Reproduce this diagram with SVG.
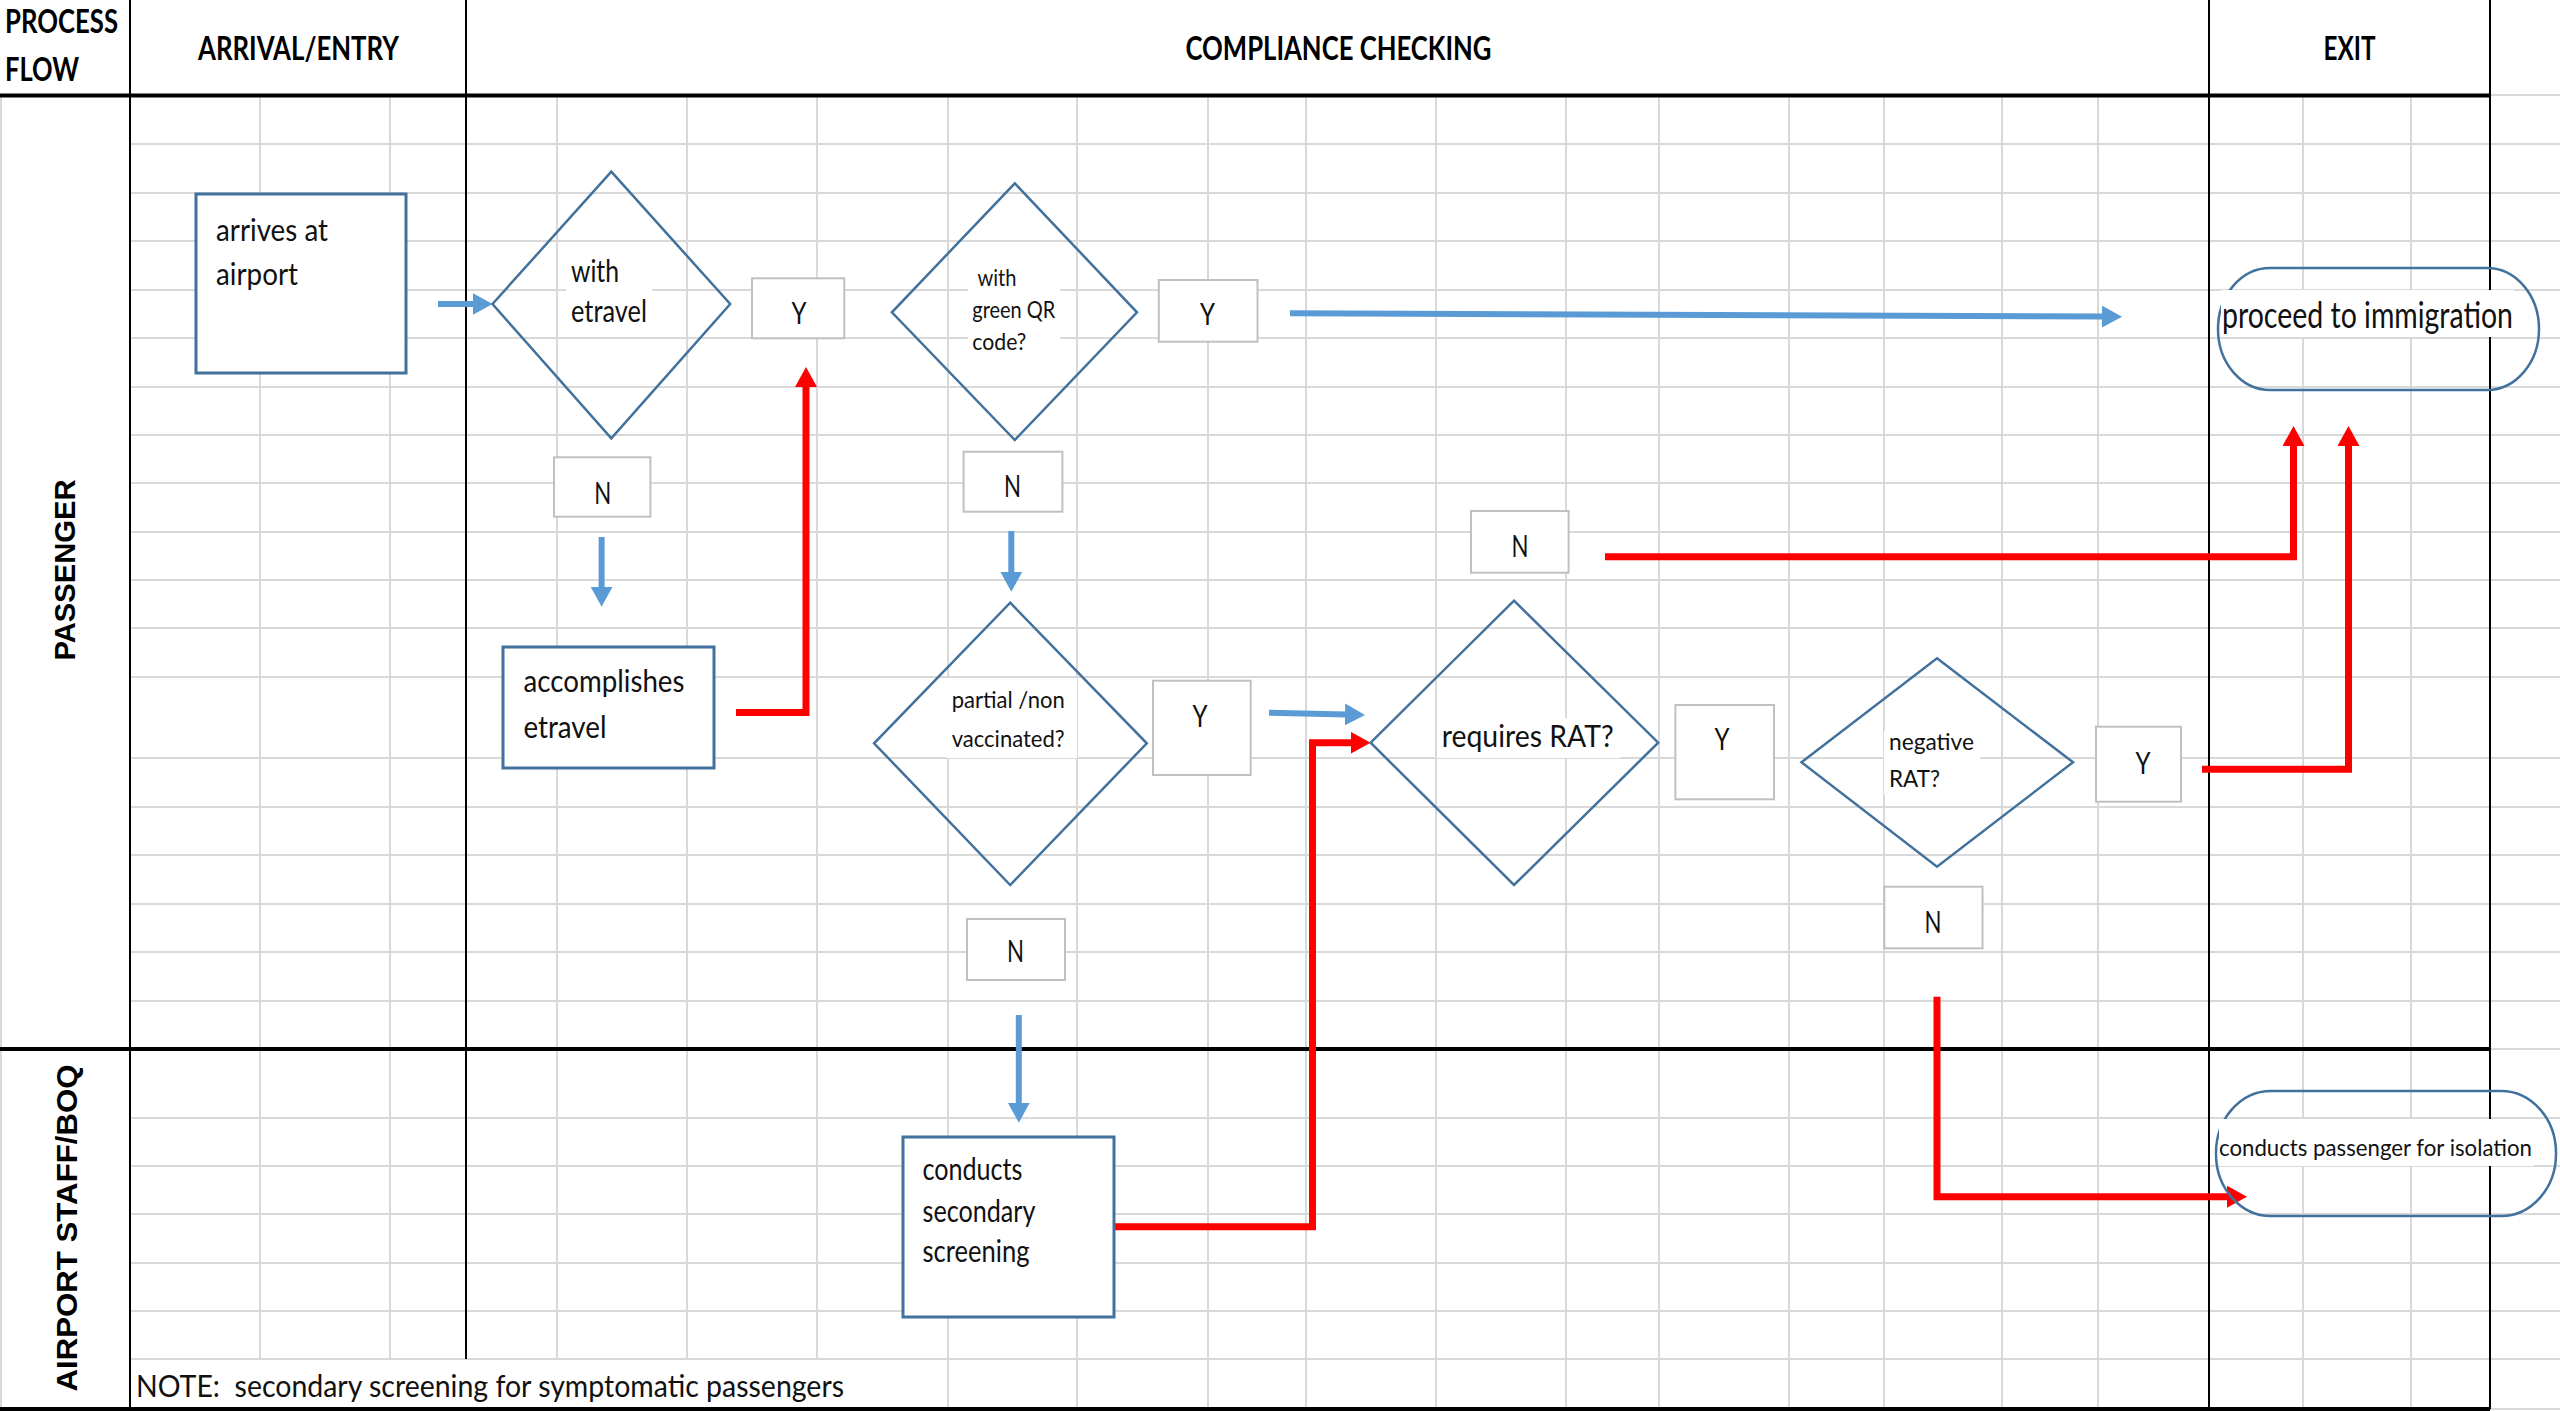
<svg xmlns="http://www.w3.org/2000/svg" width="2560" height="1411" viewBox="0 0 2560 1411">
<defs>
<style>
.grid{stroke:#d9d9d9;stroke-width:2;fill:none}
.rule{stroke:#000;stroke-width:2;fill:none}
.rule-heavy{stroke:#000;stroke-width:4;fill:none}
.proc{fill:#fff;stroke:#41719c;stroke-width:3}
.dec{fill:none;stroke:#41719c;stroke-width:2.5;stroke-linejoin:miter}
.term{fill:none;stroke:#41719c;stroke-width:2.5}
.tag{fill:#fff;stroke:#c0c0c0;stroke-width:2}
.tbg{fill:#fff}
text{font-family:Lato,"Open Sans","Liberation Sans",sans-serif;fill:#111}
.head{font-weight:700;font-size:32px;fill:#000}
.lane{font-family:"Liberation Sans",Arial,sans-serif;font-weight:700;font-size:30px;fill:#000;text-anchor:middle}
.body{font-size:30px}
.small{font-size:24px}
.yn{font-size:31px;text-anchor:middle}
.mid{text-anchor:middle}
.flow-blue{stroke:#5b9bd5;stroke-width:6;fill:none}
.flow-red{stroke:#ff0000;stroke-width:7;fill:none;stroke-linejoin:miter}
</style>
<marker id="headBlue" markerUnits="userSpaceOnUse" viewBox="0 0 20 22" markerWidth="20" markerHeight="22" refX="1" refY="11" orient="auto"><path d="M0,0 L20,11 L0,22 z" fill="#5b9bd5"/></marker>
<marker id="headRed" markerUnits="userSpaceOnUse" viewBox="0 0 20 22" markerWidth="20" markerHeight="22" refX="1" refY="11" orient="auto"><path d="M0,0 L20,11 L0,22 z" fill="#ff0000"/></marker>
</defs>

<rect width="2560" height="1411" fill="#fff"/>

<!-- sheet grid -->
<g id="grid">
<path class="grid" d="M130,144H2560M130,193H2560M130,241H2560M130,290H2560M130,338H2560M130,387H2560M130,435H2560M130,483H2560M130,532H2560M130,580H2560M130,628H2560M130,677H2560M130,758H2560M130,807H2560M130,855H2560M130,904H2560M130,952H2560M130,1001H2560M130,1118H2560M130,1166H2560M130,1214H2560M130,1263H2560M130,1311H2560M130,1359H2560M2490,95H2560M2490,1049H2560M2490,1409H2560"/>
<path class="grid" d="M260,95V1359M390,95V1359M557,95V1359M687,95V1359M817,95V1359M948,95V1409M1077,95V1409M1208,95V1409M1306,95V1409M1436,95V1409M1566,95V1409M1659,95V1409M1789,95V1409M1884,95V1409M2002,95V1409M2098,95V1409M2303,95V1409M2411,95V1409M1,95V1409"/>
</g>

<!-- swimlane frame -->
<g id="frame">
<path class="rule" d="M130,0V1409M466,0V1359M2209,0V1409M2490,0V1409"/>
<path class="rule-heavy" d="M0,95.5H2490M0,1049H2490M0,1409H2490"/>
<text class="head" x="5" y="33" textLength="113" lengthAdjust="spacingAndGlyphs">PROCESS</text>
<text class="head" x="5" y="81" textLength="74" lengthAdjust="spacingAndGlyphs">FLOW</text>
<text class="head mid" x="298.5" y="60" textLength="201" lengthAdjust="spacingAndGlyphs">ARRIVAL/ENTRY</text>
<text class="head mid" x="1338.5" y="60" textLength="306" lengthAdjust="spacingAndGlyphs">COMPLIANCE CHECKING</text>
<text class="head mid" x="2349.5" y="60" textLength="52" lengthAdjust="spacingAndGlyphs">EXIT</text>
<text class="lane" transform="translate(75,570) rotate(-90)" textLength="181" lengthAdjust="spacingAndGlyphs">PASSENGER</text>
<text class="lane" transform="translate(77,1228) rotate(-90)" textLength="327" lengthAdjust="spacingAndGlyphs">AIRPORT STAFF/BOQ</text>
<text class="body" x="136" y="1397" style="white-space:pre" textLength="708" lengthAdjust="spacingAndGlyphs">NOTE:  secondary screening for symptomatic passengers</text>
</g>

<!-- connectors -->
<g id="connectors">
<path class="flow-blue" d="M438,304H473.5" marker-end="url(#headBlue)"/>
<path class="flow-blue" d="M601.6,537V587.7" marker-end="url(#headBlue)"/>
<path class="flow-blue" d="M1290,313.3L2103,316.6" marker-end="url(#headBlue)"/>
<path class="flow-blue" d="M1011.3,531V572.7" marker-end="url(#headBlue)"/>
<path class="flow-blue" d="M1269,712.7L1346,714.5" marker-end="url(#headBlue)"/>
<path class="flow-blue" d="M1018.8,1015V1103.7" marker-end="url(#headBlue)"/>
<path class="flow-red" d="M736,712.5H806V386" marker-end="url(#headRed)"/>
<path class="flow-red" d="M1605,556.7H2293.5V445" marker-end="url(#headRed)"/>
<path class="flow-red" d="M2202,769.3H2348.5V445" marker-end="url(#headRed)"/>
<path class="flow-red" d="M1113,1226.7H1312.5V742.7H1351.6" marker-end="url(#headRed)"/>
<path class="flow-red" d="M1937,996.7V1196.7H2228" marker-end="url(#headRed)"/>
</g>

<!-- process steps -->
<g id="arrives">
<rect class="proc" x="196" y="194" width="210" height="179"/>
<text class="body" x="216" y="240.5" textLength="112" lengthAdjust="spacingAndGlyphs">arrives at</text>
<text class="body" x="216" y="284.5" textLength="82" lengthAdjust="spacingAndGlyphs">airport</text>
</g>
<g id="accomplishes">
<rect class="proc" x="503" y="647" width="211" height="121"/>
<text class="body" x="523.5" y="692" textLength="161" lengthAdjust="spacingAndGlyphs">accomplishes</text>
<text class="body" x="523.5" y="738" textLength="83" lengthAdjust="spacingAndGlyphs">etravel</text>
</g>
<g id="secondary">
<rect class="proc" x="903" y="1137" width="211" height="180"/>
<text class="body" x="922.5" y="1180" textLength="100" lengthAdjust="spacingAndGlyphs">conducts</text>
<text class="body" x="922.5" y="1221.5" textLength="113" lengthAdjust="spacingAndGlyphs">secondary</text>
<text class="body" x="922.5" y="1262" textLength="107" lengthAdjust="spacingAndGlyphs">screening</text>
</g>

<!-- decisions -->
<g id="etravel">
<polygon class="dec" points="611.3,171.7 730.2,304 611.3,438.3 492.5,304"/>
<rect class="tbg" x="566" y="254" width="86" height="76"/>
<text class="body" x="571" y="281.5" textLength="48" lengthAdjust="spacingAndGlyphs">with</text>
<text class="body" x="571" y="321.5" textLength="76" lengthAdjust="spacingAndGlyphs">etravel</text>
</g>
<g id="qrcode">
<polygon class="dec" points="1014.8,183.3 1137,312.3 1014.8,440 891.9,312.3"/>
<rect class="tbg" x="968" y="264" width="92" height="92"/>
<text class="small" x="977.5" y="286" textLength="39" lengthAdjust="spacingAndGlyphs">with</text>
<text class="small" x="972.3" y="318.3" textLength="83" lengthAdjust="spacingAndGlyphs">green QR</text>
<text class="small" x="972.3" y="350" textLength="54" lengthAdjust="spacingAndGlyphs">code?</text>
</g>
<g id="vaccinated">
<polygon class="dec" points="1010.2,602.7 1146.8,743.3 1010.2,885 874.1,743.3"/>
<rect class="tbg" x="947" y="678" width="130" height="80"/>
<text class="small" x="951.7" y="708.3" textLength="113" lengthAdjust="spacingAndGlyphs">partial /non</text>
<text class="small" x="951.7" y="746.7" textLength="113" lengthAdjust="spacingAndGlyphs">vaccinated?</text>
</g>
<g id="requiresRAT">
<polygon class="dec" points="1514,600.7 1658.2,742.7 1514,885 1370.6,742.7"/>
<rect class="tbg" x="1437" y="718" width="183" height="40"/>
<text class="body" x="1441.7" y="746.7" textLength="172" lengthAdjust="spacingAndGlyphs">requires RAT?</text>
</g>
<g id="negativeRAT">
<polygon class="dec" points="1937,658.3 2073,762.3 1937,866.7 1801.5,762.3"/>
<rect class="tbg" x="1884" y="731" width="96" height="64"/>
<text class="small" x="1889" y="750" textLength="85" lengthAdjust="spacingAndGlyphs">negative</text>
<text class="small" x="1889" y="787.3" textLength="51" lengthAdjust="spacingAndGlyphs">RAT?</text>
</g>

<!-- end points -->
<g id="immigration">
<rect class="term" x="2218" y="268" width="321" height="122" rx="52" ry="61"/>
<rect class="tbg" x="2221" y="290" width="293" height="47"/>
<text x="2222" y="328" style="font-size:36px" textLength="291" lengthAdjust="spacingAndGlyphs">proceed to immigration</text>
</g>
<g id="isolation">
<rect class="term" x="2216" y="1091" width="340" height="125" rx="55" ry="62"/>
<rect class="tbg" x="2219" y="1119" width="315" height="47"/>
<text x="2219" y="1156" style="font-size:23px" textLength="313" lengthAdjust="spacingAndGlyphs">conducts passenger for isolation</text>
</g>

<!-- branch labels -->
<g id="yes-etravel"><rect class="tag" x="752" y="278.3" width="92.3" height="60"/><text class="yn" x="799" y="324" textLength="15" lengthAdjust="spacingAndGlyphs">Y</text></g>
<g id="no-etravel"><rect class="tag" x="554" y="457.3" width="96.4" height="59.4"/><text class="yn" x="602.7" y="503.5" textLength="17" lengthAdjust="spacingAndGlyphs">N</text></g>
<g id="yes-qr"><rect class="tag" x="1158.8" y="280" width="98.7" height="61.7"/><text class="yn" x="1207.5" y="325" textLength="15" lengthAdjust="spacingAndGlyphs">Y</text></g>
<g id="no-qr"><rect class="tag" x="963.6" y="451.7" width="98.8" height="60"/><text class="yn" x="1012.5" y="496.7" textLength="17" lengthAdjust="spacingAndGlyphs">N</text></g>
<g id="no-vaccine-check"><rect class="tag" x="1471" y="511" width="97.6" height="61.7"/><text class="yn" x="1520" y="556.7" textLength="17" lengthAdjust="spacingAndGlyphs">N</text></g>
<g id="yes-vaccinated"><rect class="tag" x="1153" y="680.7" width="97.7" height="94.3"/><text class="yn" x="1200" y="726.7" textLength="15" lengthAdjust="spacingAndGlyphs">Y</text></g>
<g id="yes-rat"><rect class="tag" x="1675.4" y="705" width="98.6" height="94.3"/><text class="yn" x="1722" y="750" textLength="15" lengthAdjust="spacingAndGlyphs">Y</text></g>
<g id="yes-negative"><rect class="tag" x="2096" y="726.7" width="85" height="75"/><text class="yn" x="2143" y="774" textLength="15" lengthAdjust="spacingAndGlyphs">Y</text></g>
<g id="no-negative"><rect class="tag" x="1884.3" y="886.7" width="98.2" height="61.6"/><text class="yn" x="1933" y="933.3" textLength="17" lengthAdjust="spacingAndGlyphs">N</text></g>
<g id="no-vaccinated"><rect class="tag" x="967" y="919" width="98" height="61"/><text class="yn" x="1015.6" y="961.5" textLength="17" lengthAdjust="spacingAndGlyphs">N</text></g>
</svg>
